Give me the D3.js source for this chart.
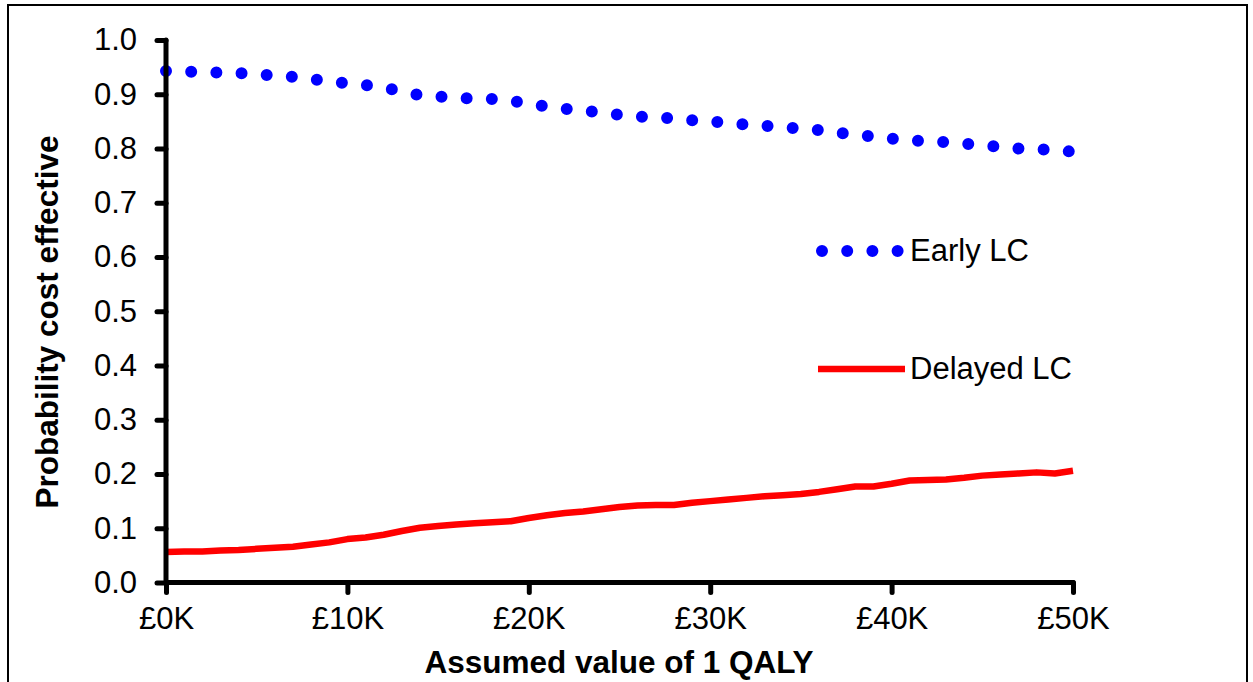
<!DOCTYPE html>
<html><head><meta charset="utf-8">
<script src="https://cdn.jsdelivr.net/npm/d3@7"></script>
<style>body{margin:0;background:#fff;}svg{display:block;}text{font-family:"Liberation Sans",Arial,sans-serif;}</style>
</head><body>
<svg id="c" width="1253" height="682"></svg>
<script>
const thresholds = d3.range(0, 51); // £K
const earlyLC = [0.943,0.942,0.941,0.940,0.939,0.937,0.934,0.932,0.928,0.924,0.920,0.917,0.912,0.906,0.898,0.896,0.893,0.892,0.891,0.888,0.883,0.877,0.873,0.870,0.866,0.862,0.859,0.857,0.856,0.852,0.850,0.847,0.844,0.842,0.839,0.837,0.834,0.829,0.826,0.822,0.818,0.815,0.813,0.812,0.809,0.806,0.803,0.800,0.799,0.797,0.794];
const delayedLC = [0.056,0.057,0.057,0.059,0.060,0.062,0.064,0.066,0.070,0.074,0.080,0.083,0.088,0.095,0.101,0.104,0.107,0.109,0.111,0.113,0.119,0.124,0.128,0.131,0.135,0.139,0.142,0.143,0.143,0.147,0.150,0.153,0.156,0.159,0.161,0.163,0.167,0.172,0.177,0.177,0.182,0.188,0.189,0.190,0.193,0.197,0.199,0.201,0.203,0.201,0.206];
const xTicks = [0,10,20,30,40,50];
const xTickLabels = ["£0K","£10K","£20K","£30K","£40K","£50K"];
const yTicks = [0,0.1,0.2,0.3,0.4,0.5,0.6,0.7,0.8,0.9,1.0];
const seriesNames = ["Early LC","Delayed LC"];
const xTitle = "Assumed value of 1 QALY";
const yTitle = "Probability cost effective";

const svg = d3.select("#c");
const x = d3.scaleLinear().domain([0,50]).range([166,1073]);
const y = d3.scaleLinear().domain([0,1]).range([582.5,40]);

// frame
svg.append("rect").attr("x",8).attr("y",5).attr("width",1239).attr("height",700)
  .attr("fill","none").attr("stroke","#000").attr("stroke-width",2);

svg.append("clipPath").attr("id","pc").append("rect").attr("x",150).attr("y",30).attr("width",1073-150+2).attr("height",570);

const line = d3.line().x((d,i)=>x(thresholds[i])).y(d=>y(d));
const g = svg.append("g").attr("clip-path","url(#pc)");
g.append("path").datum(delayedLC).attr("d",line).attr("fill","none")
  .attr("stroke","#ff0000").attr("stroke-width",6.5).attr("stroke-linejoin","round");
g.append("path").datum(earlyLC).attr("d",line).attr("fill","none")
  .attr("stroke","#0000ff").attr("stroke-width",12).attr("stroke-linecap","round")
  .attr("stroke-dasharray","0,25.2");

// axes
const fs = 31;
const yAxis = svg.append("g").attr("transform","translate(166,0)")
  .call(d3.axisLeft(y).tickValues(yTicks).tickFormat(d3.format(".1f")).tickSize(9).tickPadding(20));
const xAxis = svg.append("g").attr("transform","translate(0,582.5)")
  .call(d3.axisBottom(x).tickValues(xTicks).tickFormat((d,i)=>xTickLabels[i]).tickSize(10).tickPadding(14));
[yAxis,xAxis].forEach(a=>{
  a.select(".domain").remove();
  a.selectAll(".tick line").attr("stroke","#000").attr("stroke-width",5).attr("stroke-linecap","round");
  a.selectAll(".tick text").attr("fill","#000").style("font-size",fs+"px").style("font-family","'Liberation Sans',Arial,sans-serif");
});
svg.append("line").attr("x1",166).attr("x2",166).attr("y1",40).attr("y2",582.5)
  .attr("stroke","#000").attr("stroke-width",5).attr("stroke-linecap","round");
svg.append("line").attr("x1",166).attr("x2",1073).attr("y1",582.5).attr("y2",582.5)
  .attr("stroke","#000").attr("stroke-width",5).attr("stroke-linecap","round");

// titles
svg.append("text").attr("x",619).attr("y",673).attr("text-anchor","middle")
  .style("font-size","31.5px").style("font-weight","bold").text(xTitle);
svg.append("text").attr("transform","translate(58,322) rotate(-90)").attr("text-anchor","middle")
  .style("font-size","31.5px").style("font-weight","bold").text(yTitle);

// legend
const lg = svg.append("g");
lg.append("line").attr("x1",822).attr("x2",898).attr("y1",251).attr("y2",251)
  .attr("stroke","#0000ff").attr("stroke-width",12).attr("stroke-linecap","round").attr("stroke-dasharray","0,25.2");
lg.append("text").attr("x",910).attr("y",261).style("font-size",fs+"px").text(seriesNames[0]);
lg.append("line").attr("x1",818).attr("x2",905).attr("y1",369).attr("y2",369)
  .attr("stroke","#ff0000").attr("stroke-width",6.5);
lg.append("text").attr("x",910).attr("y",379).style("font-size",fs+"px").text(seriesNames[1]);
</script>
</body></html>
